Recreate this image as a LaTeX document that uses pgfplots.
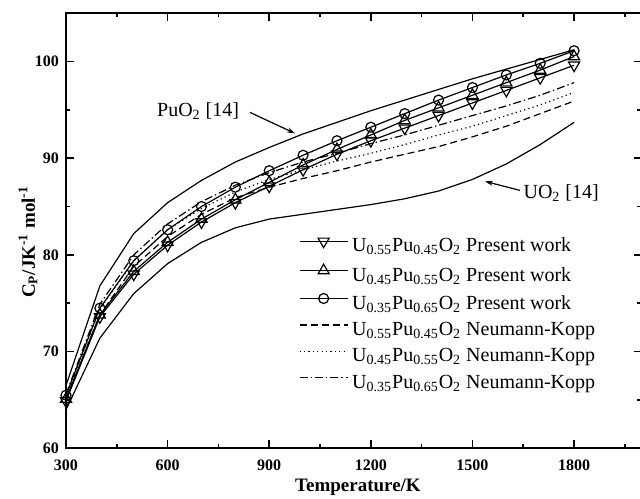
\documentclass[border=0pt]{standalone}
\usepackage{pgfplots}
\usepackage{pgfplotstable}
\pgfplotsset{compat=1.18}
\usepackage{fontspec}
\setmainfont{Liberation Serif}
\usetikzlibrary{arrows.meta}

% heat capacity, J/K/mol
\pgfplotstableread{
T    uo2   puo2  pwa   pwb   pwc   nka   nkb   nkc
300  64.0  66.5  64.9  65.1  65.5  65.1  65.4  65.6
400  71.4  76.8  73.6  73.8  74.5  73.8  74.4  74.9
500  76.0  82.2  78.0  78.3  79.4  78.8  79.4  80.0
600  79.1  85.4  81.0  81.3  82.6  81.9  82.6  83.2
700  81.3  87.7  83.4  83.7  85.0  84.2  84.8  85.5
800  82.8  89.6  85.4  85.7  87.0  85.9  86.5  87.2
900  83.7  91.1  87.1  87.5  88.7  87.0  87.8  88.5
1000 84.2  92.5  88.8  89.3  90.3  87.9  88.8  89.6
1100 84.7  93.7  90.4  90.9  91.8  88.7  89.7  90.5
1200 85.2  94.9  91.8  92.4  93.2  89.6  90.5  91.5
1300 85.8  96.0  93.1  93.9  94.6  90.4  91.4  92.4
1400 86.6  97.1  94.4  95.2  96.0  91.2  92.4  93.4
1500 87.8  98.2  95.7  96.5  97.3  92.2  93.3  94.4
1600 89.4  99.2  97.0  97.8  98.6  93.3  94.4  95.4
1700 91.4  100.2 98.3  99.1  99.8  94.6  95.5  96.5
1800 93.7  101.2 99.6  100.5 101.1 95.9  96.8  97.8
}\cpdata

\begin{document}
\begin{tikzpicture}
\useasboundingbox (-33pt,-25pt) rectangle (287pt,224.2pt);
\begin{axis}[
  scale only axis, width=287.9pt, height=217.7pt,
  xmin=300, xmax=2000, ymin=60, ymax=105,
  xtick={300,600,...,1800}, ytick={60,70,...,100},
  minor xtick={450,750,...,1950}, minor ytick={65,75,...,95},
  tick align=inside,
  major tick length=4pt, minor tick length=2.2pt,
  every tick/.style={black, line width=0.8pt},
  axis line style={line width=1pt},
  /pgf/number format/assume math mode=true,
  /pgf/number format/set thousands separator={},
  tick label style={font=\fontsize{8}{9}\selectfont\bfseries},
  xticklabel style={yshift=-2pt},
  xlabel={Temperature/K},
  ylabel={C\textsubscript{P}/JK\textsuperscript{-1} mol\textsuperscript{-1}},
  label style={font=\fontsize{9.5}{11}\selectfont\bfseries},
  xlabel style={at={(axis description cs:0.507,-0.0896)}, anchor=center},
  ylabel style={at={(axis description cs:-0.066,0.474)}, anchor=center},
  legend style={draw=none, fill=none, at={(axis description cs:0.404,0.4846)},
    anchor=north west, inner sep=0pt, row sep=3.7pt, column sep=2pt,
    font=\fontsize{10}{12}\selectfont,
    nodes={inner sep=0pt, text height=7pt, text depth=2.5pt}},
  legend cell align=left,
  legend image code/.code={\draw[mark repeat=2,mark phase=2,#1]
    plot coordinates {(0pt,3pt) (12pt,3pt) (24pt,3pt)};},
  every axis plot/.append style={black, line width=0.6pt},
]
\addplot[mark=triangle, mark size=3.2pt, mark options={solid, fill=white, rotate=180}]
  table[x=T, y=pwa] {\cpdata};
\addlegendentry{U\textsubscript{0.55}Pu\textsubscript{0.45}O\textsubscript{2} Present work}
\addplot[mark=triangle, mark size=3.2pt, mark options={solid, fill=white}]
  table[x=T, y=pwb] {\cpdata};
\addlegendentry{U\textsubscript{0.45}Pu\textsubscript{0.55}O\textsubscript{2} Present work}
\addplot[mark=o, mark size=2.5pt, mark options={solid, fill=white}]
  table[x=T, y=pwc] {\cpdata};
\addlegendentry{U\textsubscript{0.35}Pu\textsubscript{0.65}O\textsubscript{2} Present work}
\addplot[dash pattern=on 3.5pt off 2pt] table[x=T, y=nka] {\cpdata};
\addlegendentry{U\textsubscript{0.55}Pu\textsubscript{0.45}O\textsubscript{2} Neumann-Kopp}
\addplot[dash pattern=on 0.6pt off 1.6pt] table[x=T, y=nkb] {\cpdata};
\addlegendentry{U\textsubscript{0.45}Pu\textsubscript{0.55}O\textsubscript{2} Neumann-Kopp}
\addplot[dash pattern=on 4pt off 1.5pt on 0.7pt off 1.5pt] table[x=T, y=nkc] {\cpdata};
\addlegendentry{U\textsubscript{0.35}Pu\textsubscript{0.65}O\textsubscript{2} Neumann-Kopp}
\addplot[forget plot] table[x=T, y=puo2] {\cpdata};
\addplot[forget plot] table[x=T, y=uo2] {\cpdata};

\node[font=\fontsize{10}{12}\selectfont] at (axis cs:690,94.9) {PuO\textsubscript{2} [14]};
\draw[line width=0.6pt, -{Stealth[length=4pt,width=2.5pt]}] (axis cs:843,94.73) -- (axis cs:976,92.56);
\node[font=\fontsize{10}{12}\selectfont] at (axis cs:1762,86.4) {UO\textsubscript{2} [14]};
\draw[line width=0.6pt, -{Stealth[length=4pt,width=2.5pt]}] (axis cs:1640,86.67) -- (axis cs:1537,87.6);
\end{axis}
\end{tikzpicture}
\end{document}
